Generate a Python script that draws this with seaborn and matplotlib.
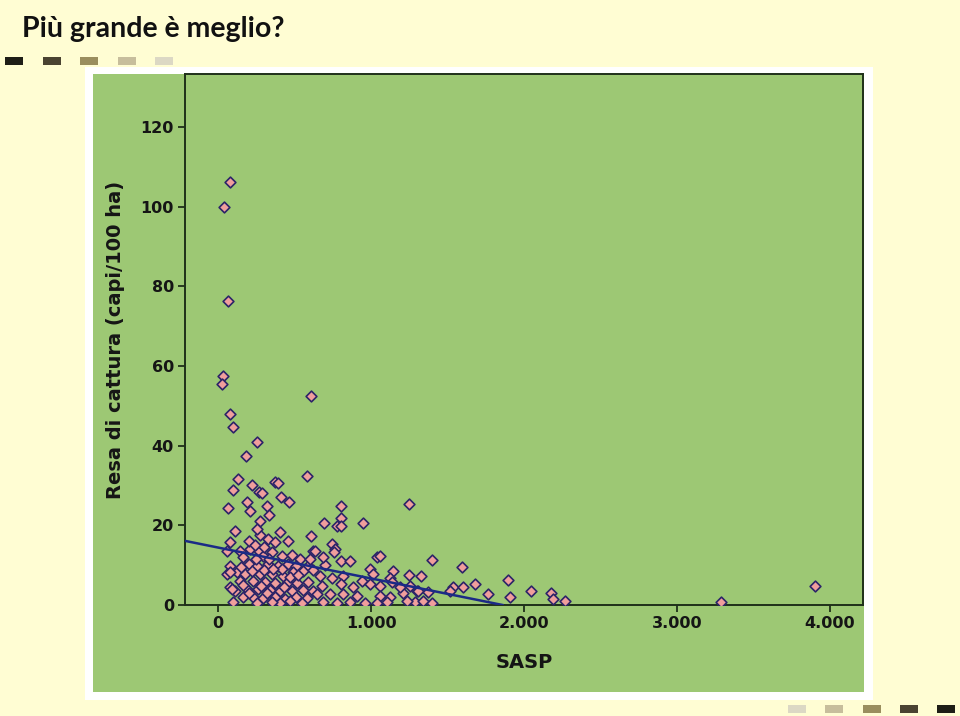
import numpy as np
import pandas as pd
import matplotlib
matplotlib.use("Agg")
import matplotlib.pyplot as plt
import seaborn as sns
from matplotlib.patches import Rectangle

# ---------------- data ----------------
sasp = [78, 39, 65, 33, 26, 608, 78, 100, 255, 182, 129, 222, 373, 392, 584, 98, 268, 290, 412, 466,
        63, 190, 212, 320, 331, 804, 802, 776, 806, 693, 949, 1246, 274, 109, 275, 253, 402, 455, 608, 325,
        78, 57, 373, 743, 765, 621, 758, 1039, 1059, 802, 863, 1401, 1593, 1679, 1536, 1599, 1248, 1327, 1895, 1516,
        1763, 2045, 1908, 2176, 2189, 2270, 3285, 3902, 1207, 1288, 1400, 1299, 1338,
        209, 268, 144, 166, 292, 351, 416, 482, 536, 590, 634, 78, 205, 253, 329, 394, 460, 510, 122, 176,
        274, 351, 427, 492, 558, 61, 144, 231, 307, 373, 449, 514, 590, 78, 111, 187, 263, 340, 405, 482,
        558, 623, 166, 231, 296, 373, 438, 510, 580, 100, 253, 405, 547,
        699, 623, 993, 1146, 667, 743, 819, 1015, 1124, 678, 802, 884, 939, 993, 1059, 1135, 1190, 1255, 1309, 1375,
        645, 732, 819, 906, 1059, 1124, 688, 776, 863, 961, 1037, 1102, 1233, 688, 89, 78,
        200, 240, 300, 330, 420, 470, 300, 250, 360, 430, 320, 200, 150, 280, 470, 520, 600, 160, 350, 220]
resa = [106.3, 100, 76.4, 57.6, 55.4, 52.4, 48, 44.7, 41, 37.3, 31.6, 30, 31, 30.6, 32.5, 28.9, 28.3, 28, 27, 25.8,
        24.3, 25.8, 23.6, 24.8, 22.6, 24.8, 21.8, 19.8, 19.8, 20.6, 20.6, 25.3, 21, 18.5, 17.5, 19.2, 18.4, 16, 17.4, 16.5,
        15.7, 13.5, 15.8, 15.3, 14, 13.5, 13.3, 12, 12.4, 11.1, 11.1, 11.2, 9.5, 5.3, 4.5, 4.6, 7.6, 7.4, 6.4, 3.6,
        2.8, 3.6, 2.1, 3, 1.6, 1, 0.75, 4.8, 3, 0.75, 0.5, 3.5, 1,
        14, 13.6, 13.6, 12, 12.3, 13.3, 12.3, 12.5, 11.5, 9.8, 13.6, 9.8, 10.3, 9.8, 10.3, 9.8, 10.3, 9.8, 8.2, 7.8,
        7.8, 7.8, 7.4, 8.2, 8.6, 7.8, 6.1, 6.1, 5.7, 5.5, 5.5, 5.5, 5.7, 4.4, 3.6, 4, 4, 3.8, 3.6, 3.6,
        3.8, 3.6, 1.9, 1.9, 1.7, 1.9, 1.5, 1.9, 1.7, 0.8, 0.5, 0.5, 0.5,
        10, 8.9, 9, 8.6, 7.4, 6.9, 7.4, 7.8, 6.7, 4.8, 5.3, 4.4, 6.1, 5.3, 4.8, 5.7, 4.4, 4.7, 3.6, 3.3,
        2.8, 2.8, 2.8, 2.3, 2.3, 1.9, 0.8, 0.5, 0.7, 0.5, 0.5, 0.7, 1, 12, 4, 8.3,
        16, 15, 14.5, 11.5, 9, 7, 8.8, 11.5, 9, 4.5, 3, 3, 9.5, 4.8, 1, 7.5, 11.5, 5, 0.8, 8.5]

# linear fit line (endpoints)
fit_x = [-216, 1860]
fit_y = [16.1, 0.0]

x_ticks = [0, 1000, 2000, 3000, 4000]
x_tick_labels = ["0", "1.000", "2.000", "3.000", "4.000"]
y_ticks = [0, 20, 40, 60, 80, 100, 120]
y_tick_labels = ["0", "20", "40", "60", "80", "100", "120"]

title = "Più grande è meglio?"
x_label = "SASP"
y_label = "Resa di cattura (capi/100 ha)"

df = pd.DataFrame({"SASP": sasp, "Resa": resa})

# ---------------- styling ----------------
W, H = 960, 716
cream = "#FFFDD3"
green = "#9DC874"
pink = "#F09E9C"
edge = "#2C2468"
navy = "#1B2A86"
dark = "#151515"
spine = "#1F301A"

fig = plt.figure(figsize=(W / 100, H / 100), dpi=100, facecolor=cream)

def box(x0, y0, x1, y1, color):
    fig.patches.append(Rectangle((x0 / W, 1 - y1 / H), (x1 - x0) / W, (y1 - y0) / H,
                                 transform=fig.transFigure, facecolor=color,
                                 edgecolor="none", zorder=-5))

# white frame and green chart panel
box(85, 67, 873, 700, "white")
box(93, 74, 864, 692, green)

# decorative squares
top_cols = ["#1E1E16", "#4A4331", "#9A8E5E", "#C7BE9C", "#DCD8C4"]
for i, c in enumerate(top_cols):
    x0 = 5 + i * 37.5
    box(x0, 57, x0 + 18, 64.5, c)
for i, c in enumerate(top_cols[::-1]):
    x0 = 788 + i * 37.3
    box(x0, 705, x0 + 18, 713, c)

fig.text(22 / W, 1 - 37 / H, title, fontsize=20.5, fontweight="bold",
         family=["Lato", "DejaVu Sans"], color="#111111", va="baseline", ha="left")

ax = fig.add_axes([185 / W, 1 - 605 / H, 678 / W, 531 / H])
ax.set_zorder(2)
ax.set_facecolor(green)

sns.scatterplot(data=df, x="SASP", y="Resa", marker="D", s=30, color=pink,
                edgecolor=edge, linewidth=1.2, ax=ax, zorder=3, clip_on=True)
sns.lineplot(x=fit_x, y=fit_y, color=navy, linewidth=1.8, ax=ax, zorder=4)

ax.set_xlim(-216, 4216)
ax.set_ylim(0, 133.3)
ax.set_xticks(x_ticks, labels=x_tick_labels)
ax.set_yticks(y_ticks, labels=y_tick_labels)

for s in ax.spines.values():
    s.set_color(spine)
    s.set_linewidth(1.4)
ax.tick_params(direction="out", length=5, width=1.3, color=spine, pad=3,
               labelsize=11.5, labelcolor=dark)
for lab in ax.get_xticklabels() + ax.get_yticklabels():
    lab.set_fontweight("bold")
    lab.set_family("DejaVu Sans")

ax.set_xlabel(x_label, fontsize=14, fontweight="bold", color=dark, labelpad=16)
ax.set_ylabel(y_label, fontsize=14, fontweight="bold", color=dark, labelpad=11)

fig.savefig("out.png", dpi=100, facecolor=cream)
